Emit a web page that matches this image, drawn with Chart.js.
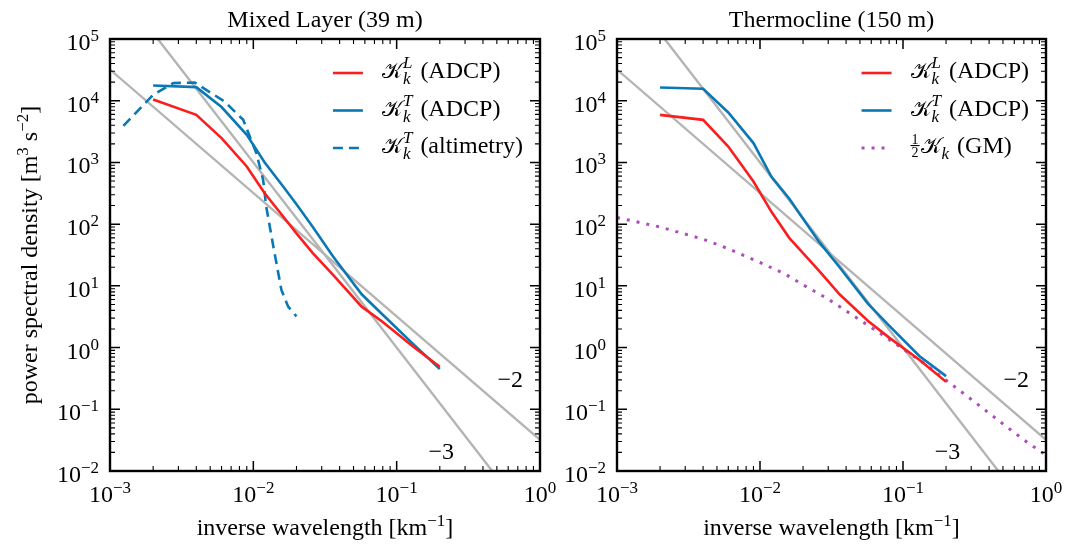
<!DOCTYPE html>
<html lang="en">
<head>
<meta charset="utf-8">
<title>Kinetic energy spectra</title>
<script src="https://cdn.jsdelivr.net/npm/chart.js@4.4.1/dist/chart.umd.min.js"></script>
<style>
  html, body { margin: 0; padding: 0; background: #fff; }
  #wrap { position: relative; width: 1067px; height: 544px; overflow: hidden; }
  canvas { position: absolute; top: 0; }
  #mixed { left: 0; }
  #thermo { left: 560px; }
</style>
</head>
<body>
<div id="wrap">
  <canvas id="mixed" width="560" height="544"></canvas>
  <canvas id="thermo" width="507" height="544"></canvas>
</div>
<script>
// --- tick labels ---
const xTicks = [1e-3, 1e-2, 1e-1, 1];
const xTickExp = ['−3', '−2', '−1', '0'];
const yTicks = [1e-2, 1e-1, 1, 1e1, 1e2, 1e3, 1e4, 1e5];
const yTickExp = ['−2', '−1', '0', '1', '2', '3', '4', '5'];

// --- spectra (inverse wavelength in km^-1) ---
const kAdcp = [0.002, 0.004, 0.006, 0.009, 0.012, 0.016, 0.02, 0.026, 0.036, 0.057, 0.08, 0.13, 0.2];
const mixedL = [10500, 5900, 2480, 860, 317, 137, 71, 34, 15, 4.6, 2.6, 1.04, 0.49];
const mixedT = [17600, 16600, 7900, 2800, 1000, 420, 210, 90, 30, 7.3, 3.4, 1.15, 0.45];
const kAlt = [0.00124, 0.002, 0.00276, 0.0039, 0.0063, 0.0085, 0.0105, 0.0117, 0.0123, 0.0138, 0.0157, 0.0175, 0.02];
const mixedAlt = [3900, 12500, 19300, 19700, 9700, 4900, 1410, 525, 193, 43, 8.6, 4.6, 3.2];
const thermoL = [5900, 4900, 1810, 490, 160, 60, 34, 17.3, 7.3, 2.7, 1.45, 0.635, 0.28];
const thermoT = [16400, 15600, 6450, 2060, 590, 260, 122, 51, 20, 5.1, 2.27, 0.73, 0.345];
const kGM = [0.001, 0.002, 0.004, 0.006, 0.01, 0.015, 0.02, 0.03, 0.05, 0.07, 0.1, 0.14, 0.2, 0.3, 0.5, 0.7, 1.0];
const thermoGM = [128, 90, 57, 40, 24, 15.5, 10.4, 6.1, 2.8, 1.67, 0.95, 0.555, 0.296, 0.145, 0.058, 0.032, 0.018];

// --- k^-2 and k^-3 reference lines, end points only ---
const refK = [1e-3, 1];
const refSlope2 = [3.2e4, 3.2e-2];
const refSlope3 = [1e6, 1e-3];
const slopeText = ['−2', '−3'];
const slopeK = [0.62, 0.205];
const slopeY = [0.29, 0.02];

const RED = '#fa1e1e', BLUE = '#0b78b6', PURPLE = '#ad4cbb', GREY = '#b4b4b4';
const SERIF = '"Liberation Serif", "Times New Roman", serif';
const CAL_K = '𝒦';
const CAL_FONT = '"DejaVu Serif", "DejaVu Sans", serif';
const DASH = [10, 6], DOTS = [3, 7];

const pts = (xs, ys) => xs.map((x, i) => ({ x, y: ys[i] }));
const font = (size, italic, family) => (italic ? 'italic ' : '') + size + 'px ' + (family || SERIF);

// text pieces one after another: [text, size, dy]
function richText(ctx, pieces, x, y, align) {
  let w = 0;
  pieces.forEach(p => { ctx.font = font(p[1]); w += ctx.measureText(p[0]).width; });
  let cx = x - w * align;
  pieces.forEach(p => {
    ctx.font = font(p[1]);
    ctx.fillText(p[0], cx, y + (p[2] || 0));
    cx += ctx.measureText(p[0]).width;
  });
  return w;
}

// legend label  (1/2) K_k^sup (tail)
function kLabel(ctx, x, y, e, draw) {
  let cx = x;
  if (e.half) {
    ctx.font = font(14);
    const fw = ctx.measureText('2').width + 2;
    if (draw) {
      ctx.textAlign = 'center';
      ctx.fillText('1', cx + fw / 2, y - 9);
      ctx.fillText('2', cx + fw / 2, y + 4);
      ctx.fillRect(cx, y - 8, fw, 1.1);
      ctx.textAlign = 'left';
    }
    cx += fw + 1;
  }
  ctx.font = font(22, false, CAL_FONT);
  if (draw) ctx.fillText(CAL_K, cx, y);
  cx += ctx.measureText(CAL_K).width + 1;
  ctx.font = font(17, true);
  let sw = ctx.measureText('k').width;
  if (draw) ctx.fillText('k', cx, y + 6);
  if (e.sup) {
    sw = Math.max(sw, ctx.measureText(e.sup).width);
    if (draw) ctx.fillText(e.sup, cx, y - 10);
  }
  cx += sw + 8;
  ctx.font = font(24);
  if (draw) ctx.fillText(e.tail, cx, y);
  cx += ctx.measureText(e.tail).width;
  return cx - x;
}

function drawTicks(ctx, scale, a, horizontal) {
  const e0 = Math.round(Math.log10(scale.min)), e1 = Math.round(Math.log10(scale.max));
  for (let e = e0; e <= e1; e++) {
    for (let n = 1; n <= 9; n++) {
      const v = n * Math.pow(10, e);
      if (v > scale.max * 1.001) break;
      const p = scale.getPixelForValue(v);
      const len = n === 1 ? 10 : 5;
      ctx.lineWidth = n === 1 ? 1.5 : 1.1;
      ctx.beginPath();
      if (horizontal) {
        ctx.moveTo(p, a.bottom); ctx.lineTo(p, a.bottom - len);
        ctx.moveTo(p, a.top); ctx.lineTo(p, a.top + len);
      } else {
        ctx.moveTo(a.left, p); ctx.lineTo(a.left + len, p);
        ctx.moveTo(a.right, p); ctx.lineTo(a.right - len, p);
      }
      ctx.stroke();
    }
  }
}

// frame, ticks, labels and legend for one panel
function panelPlugin(cfg) {
  return {
    id: 'panel',
    afterDatasetsDraw(chart) {
      const { ctx, chartArea: a, scales: { x, y } } = chart;
      ctx.save();
      ctx.fillStyle = '#000';
      ctx.strokeStyle = '#000';
      ctx.textAlign = 'left';
      ctx.textBaseline = 'alphabetic';

      drawTicks(ctx, x, a, true);
      drawTicks(ctx, y, a, false);
      ctx.lineWidth = 2.4;
      ctx.strokeRect(a.left, a.top, a.right - a.left, a.bottom - a.top);

      xTicks.forEach((v, i) => richText(ctx, [['10', 24], [xTickExp[i], 17, -9]], x.getPixelForValue(v), a.bottom + 31, 0.5));
      yTicks.forEach((v, i) => richText(ctx, [['10', 24], [yTickExp[i], 17, -9]], a.left - 11, y.getPixelForValue(v) + 11, 1));

      ctx.textAlign = 'center';
      ctx.textBaseline = 'middle';
      ctx.font = font(24);
      slopeText.forEach((t, i) => ctx.fillText(t, x.getPixelForValue(slopeK[i]), y.getPixelForValue(slopeY[i])));
      ctx.textAlign = 'left';
      ctx.textBaseline = 'alphabetic';

      const cx = (a.left + a.right) / 2;
      richText(ctx, [[cfg.title, 24]], cx, 27, 0.5);
      richText(ctx, [['inverse wavelength [km', 24], ['−1', 17, -9], [']', 24]], cx, chart.height - 9, 0.5);
      if (cfg.yLabel) {
        ctx.save();
        ctx.translate(37, (a.top + a.bottom) / 2);
        ctx.rotate(-Math.PI / 2);
        richText(ctx, [['power spectral density [m', 24], ['3', 17, -9], [' s', 24], ['−2', 17, -9], [']', 24]], 0, 0, 0.5);
        ctx.restore();
      }

      // legend, right aligned in the upper corner
      const maxW = Math.max(...cfg.legend.map(e => kLabel(ctx, 0, 0, e, false)));
      const tx = a.right - 17 - maxW;
      cfg.legend.forEach((e, i) => {
        const ly = a.top + 34 + i * 37.5;
        ctx.save();
        ctx.strokeStyle = e.color;
        ctx.lineWidth = e.dots ? 3 : 2.6;
        ctx.setLineDash(e.dash || []);
        ctx.beginPath();
        ctx.moveTo(tx - 49, ly);
        ctx.lineTo(tx - 19, ly);
        ctx.stroke();
        ctx.restore();
        kLabel(ctx, tx, ly + 5, e, true);
      });
      ctx.restore();
    }
  };
}

const line = (data, color, extra) => Object.assign({
  data, borderColor: color, borderWidth: 2.6, pointRadius: 0, tension: 0, fill: false, order: 0
}, extra || {});

const refLines = () => [
  line(pts(refK, refSlope2), GREY, { borderWidth: 2.4, order: 1 }),
  line(pts(refK, refSlope3), GREY, { borderWidth: 2.4, order: 1 })
];

function makeChart(id, datasets, padLeft, padRight, cfg) {
  return new Chart(document.getElementById(id), {
    type: 'line',
    data: { datasets },
    options: {
      responsive: false,
      animation: false,
      layout: { padding: { left: padLeft, right: padRight, top: 39, bottom: 73 } },
      plugins: { legend: { display: false }, tooltip: { enabled: false } },
      scales: {
        x: { type: 'logarithmic', min: 1e-3, max: 1, display: false },
        y: { type: 'logarithmic', min: 1e-2, max: 1e5, display: false }
      }
    },
    plugins: [panelPlugin(cfg)]
  });
}

makeChart('mixed', [
  line(pts(kAdcp, mixedL), RED),
  line(pts(kAdcp, mixedT), BLUE),
  line(pts(kAlt, mixedAlt), BLUE, { borderDash: DASH }),
  ...refLines()
], 110, 20, {
  title: 'Mixed Layer (39 m)',
  yLabel: true,
  legend: [
    { color: RED, sup: 'L', tail: '(ADCP)' },
    { color: BLUE, sup: 'T', tail: '(ADCP)' },
    { color: BLUE, sup: 'T', tail: '(altimetry)', dash: DASH }
  ]
});

makeChart('thermo', [
  line(pts(kAdcp, thermoL), RED),
  line(pts(kAdcp, thermoT), BLUE),
  line(pts(kGM, thermoGM), PURPLE, { borderWidth: 3, borderDash: DOTS }),
  ...refLines()
], 57, 21, {
  title: 'Thermocline (150 m)',
  yLabel: false,
  legend: [
    { color: RED, sup: 'L', tail: '(ADCP)' },
    { color: BLUE, sup: 'T', tail: '(ADCP)' },
    { color: PURPLE, half: true, tail: '(GM)', dash: DOTS, dots: true }
  ]
});
</script>
</body>
</html>
